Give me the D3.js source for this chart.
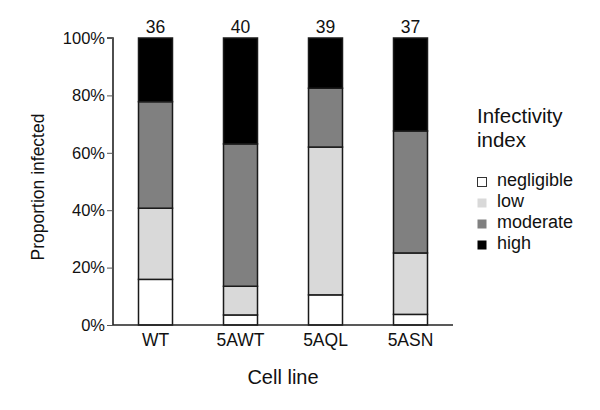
<!DOCTYPE html>
<html>
<head>
<meta charset="utf-8">
<script src="https://cdn.jsdelivr.net/npm/d3@7"></script>
<style>
  html, body { margin: 0; padding: 0; background: #fff; }
  svg { display: block; font-family: "Liberation Sans", Arial, sans-serif; }
</style>
</head>
<body>
<svg id="chart" width="600" height="410"></svg>
<script>
// Data
const categories = ["WT", "5AWT", "5AQL", "5ASN"];
const counts = [36, 40, 39, 37];
const seriesNames = ["negligible", "low", "moderate", "high"];
const negligible = [15.9, 3.5, 10.5, 3.7];
const low = [24.8, 10.0, 51.5, 21.4];
const moderate = [37.1, 49.6, 20.5, 42.5];
const high = [22.2, 36.9, 17.5, 32.4];
const yTicks = [0, 20, 40, 60, 80, 100];
const colors = ["#ffffff", "#d9d9d9", "#808080", "#000000"];

const rows = categories.map((c, i) => ({
  cat: c, negligible: negligible[i], low: low[i], moderate: moderate[i], high: high[i]
}));

const svg = d3.select("#chart");
const x = d3.scaleBand().domain(categories).range([113, 453]).paddingInner(0.6).paddingOuter(0.3);
const y = d3.scaleLinear().domain([0, 100]).range([325, 38]);

const stack = d3.stack().keys(seriesNames);
const series = stack(rows);

const g = svg.append("g");
series.forEach((s, si) => {
  g.selectAll(null).data(s).enter().append("rect")
    .attr("x", d => x(d.data.cat))
    .attr("width", x.bandwidth())
    .attr("y", d => y(d[1]))
    .attr("height", d => y(d[0]) - y(d[1]))
    .attr("fill", colors[si])
    .attr("stroke", "#1a1a1a")
    .attr("stroke-width", 1.5);
});

// Y axis
const yAxis = d3.axisLeft(y).tickValues(yTicks).tickFormat(d => d + "%").tickSize(6).tickPadding(2);
const ya = svg.append("g").attr("transform", "translate(113,0)").call(yAxis);
ya.select(".domain").attr("stroke", "#222").attr("stroke-width", 1.6).attr("d", "M-6,38H0V325");
ya.selectAll(".tick line").attr("stroke", "#555").attr("stroke-width", 1);
ya.selectAll(".tick text").attr("font-size", 16.5).attr("fill", "#111").attr("font-family", "Liberation Sans, Arial, sans-serif");

// X axis
const xAxis = d3.axisBottom(x).tickSize(0).tickPadding(9);
const xa = svg.append("g").attr("transform", "translate(0,325)").call(xAxis);
xa.select(".domain").attr("stroke", "#222").attr("stroke-width", 1.6).attr("d", "M113,0H453");
xa.selectAll(".tick text").attr("font-size", 17.5).attr("fill", "#111").attr("font-family", "Liberation Sans, Arial, sans-serif");

// counts above bars
svg.selectAll(null).data(categories).enter().append("text")
  .attr("x", d => x(d) + x.bandwidth() / 2)
  .attr("y", 33)
  .attr("text-anchor", "middle")
  .attr("font-size", 17.5)
  .attr("fill", "#111")
  .text((d, i) => counts[i]);

// axis titles
svg.append("text")
  .attr("transform", "translate(44,187) rotate(-90)")
  .attr("text-anchor", "middle")
  .attr("font-size", 17.5)
  .attr("fill", "#111")
  .text("Proportion infected");

svg.append("text")
  .attr("x", 283).attr("y", 384)
  .attr("text-anchor", "middle")
  .attr("font-size", 20)
  .attr("fill", "#111")
  .text("Cell line");

// legend
svg.append("text").attr("x", 477).attr("y", 123).attr("font-size", 20.5).attr("fill", "#111").text("Infectivity");
svg.append("text").attr("x", 477).attr("y", 147).attr("font-size", 20.5).attr("fill", "#111").text("index");

const lg = svg.append("g");
seriesNames.forEach((name, i) => {
  const yy = 177 + i * 21;
  lg.append("rect").attr("x", 477.5).attr("y", yy + 0.5).attr("width", 9).attr("height", 9)
    .attr("fill", colors[i]).attr("stroke", i === 0 ? "#333" : "none").attr("stroke-width", 1);
  lg.append("text").attr("x", 497).attr("y", yy + 9).attr("font-size", 18).attr("fill", "#111").text(name);
});
</script>
</body>
</html>
